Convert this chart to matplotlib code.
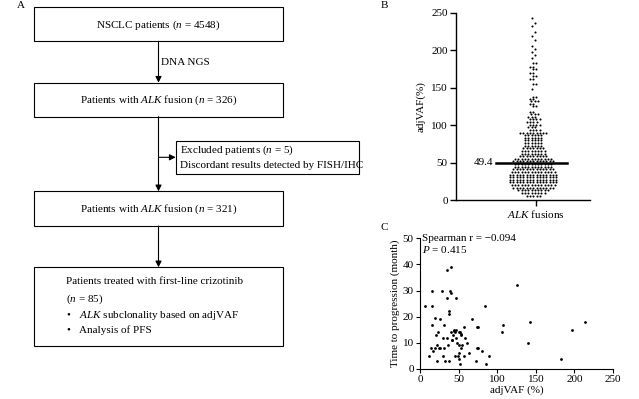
import matplotlib
matplotlib.use('Agg')
import matplotlib.pyplot as plt
from matplotlib.patches import Rectangle
import numpy as np

plt.rcParams['font.family'] = ['Liberation Serif', 'DejaVu Serif']
plt.rcParams['mathtext.fontset'] = 'custom'
plt.rcParams['mathtext.rm'] = 'Liberation Serif'
plt.rcParams['mathtext.it'] = 'Liberation Serif:italic'
plt.rcParams['axes.unicode_minus'] = True

# ---------------- data ----------------
n_total = 4548
n_alk = 326
n_excluded = 5
n_alk_final = 321
n_crizotinib = 85

# Panel B: adjVAF levels (rows of the dot plot) and number of patients per row
swarm_levels = [6, 9.5, 13, 16.5, 20, 23.5, 27, 30.5, 34, 37.5, 41, 44.5, 48,
                51.5, 55, 58.5, 62, 65.5, 69, 72.5, 76, 79.5, 83, 86.5, 90,
                93.5, 97, 100.5, 104, 107.5, 111, 114.5, 118,
                125, 128, 132, 135, 138, 148, 155,
                161, 165, 170, 175, 178, 183,
                190, 194, 198, 202, 206, 213, 219, 224, 232, 236, 243]
swarm_counts = [5, 8, 10, 13, 14, 15, 15, 15, 15, 14, 13, 12, 12,
                13, 12, 9, 8, 8, 7, 6, 6, 6, 6, 6, 9,
                4, 3, 4, 4, 4, 3, 3, 2,
                2, 2, 3, 2, 2, 1, 2,
                2, 2, 2, 2, 2, 2,
                1, 1, 1, 1, 1, 1, 1, 1, 1, 1, 1]
median_value = 49.4

# Panel C: adjVAF (%) vs time to progression (month)
ttp_adjvaf = [7, 15, 15, 15, 19, 14, 17, 12, 22, 21, 23.5, 26, 28, 31, 26.5, 31,
              29.5, 22, 29.5, 32, 34.5, 40.5, 38.5, 40.5, 34.5, 46.5, 37.5, 37.5,
              37.5, 35, 36, 40.5, 42, 43.5, 45, 42.5, 46.5, 47, 48, 51, 52, 53.5,
              51, 53, 51, 49, 51, 51.5, 45.5, 57, 57.5, 58.5, 61, 63, 67, 73.5,
              75.5, 74, 75.5, 72.5, 80, 84, 89, 86, 106, 108, 126, 140, 143, 183,
              197, 213.5, 44, 41, 53, 25, 20, 55]
ttp_months = [24, 30, 24, 17, 19.5, 8, 7, 5, 9, 13, 14, 19, 30, 17, 8, 8,
              12, 3, 5, 3, 38, 39, 30, 29, 27, 27, 22, 21,
              3, 12, 9, 14, 11, 15, 14, 13, 15, 12, 10, 14, 14, 13,
              9, 8, 6, 5, 4, 2, 5, 5, 16, 12, 10, 6, 19, 8,
              8, 16, 16, 3, 7, 24, 5, 2, 14, 17, 32, 10, 18, 4,
              15, 18, 14.5, 11, 13.5, 8, 8, 9]
spearman_r = '\u22120.094'
p_value = '0.415'

# ---------------- figure ----------------
W, H = 639, 399
fig = plt.figure(figsize=(W / 100, H / 100), dpi=100)
ax0 = fig.add_axes([0, 0, 1, 1])
ax0.set_xlim(0, W)
ax0.set_ylim(H, 0)
ax0.axis('off')

FS = 8
LW = 0.8


def box(x0, y0, x1, y1):
    ax0.add_patch(Rectangle((x0, y0), x1 - x0, y1 - y0, fill=False,
                            lw=LW, ec='black'))


def arrow(x0, y0, x1, y1):
    ax0.annotate('', xy=(x1, y1), xytext=(x0, y0),
                 arrowprops=dict(arrowstyle='-|>', lw=LW, color='black',
                                 mutation_scale=9, shrinkA=0, shrinkB=0))


cx = 158.5
bx0, bx1 = 34.3, 282.7

# Panel A flowchart
ax0.text(21, 6, 'A', fontsize=FS, ha='center', va='center')
box(bx0, 7.3, bx1, 41.3)
ax0.text(cx, 25, 'NSCLC patients ($\\mathit{n}$ = %d)' % n_total,
         fontsize=FS, ha='center', va='center')
arrow(cx, 41.3, cx, 82.7)
ax0.text(161, 62.5, 'DNA NGS', fontsize=FS, ha='left', va='center')
box(bx0, 82.7, bx1, 116.7)
ax0.text(cx, 100, 'Patients with $\\mathit{ALK}$ fusion ($\\mathit{n}$ = %d)' % n_alk,
         fontsize=FS, ha='center', va='center')
arrow(cx, 116.7, cx, 191.3)
arrow(cx, 157.3, 175.7, 157.3)
box(175.7, 140.7, 359, 174)
ax0.text(180, 150.5, 'Excluded patients ($\\mathit{n}$ = %d)' % n_excluded,
         fontsize=FS, ha='left', va='center')
ax0.text(180, 165.5, 'Discordant results detected by FISH/IHC',
         fontsize=FS, ha='left', va='center')
box(bx0, 191.3, bx1, 226)
ax0.text(cx, 209, 'Patients with $\\mathit{ALK}$ fusion ($\\mathit{n}$ = %d)' % n_alk_final,
         fontsize=FS, ha='center', va='center')
arrow(cx, 226, cx, 267.3)
box(bx0, 267.3, bx1, 345.7)
ax0.text(66, 281, 'Patients treated with first-line crizotinib',
         fontsize=FS, ha='left', va='center')
ax0.text(66, 299.5, '($\\mathit{n}$ = %d)' % n_crizotinib,
         fontsize=FS, ha='left', va='center')
ax0.text(68.5, 315, '\u2022', fontsize=FS, ha='center', va='center')
ax0.text(79, 315, '$\\mathit{ALK}$ subclonality based on adjVAF',
         fontsize=FS, ha='left', va='center')
ax0.text(68.5, 330, '\u2022', fontsize=FS, ha='center', va='center')
ax0.text(79, 330, 'Analysis of PFS', fontsize=FS, ha='left', va='center')

ax0.text(384, 5, 'B', fontsize=FS, ha='center', va='center')
ax0.text(384, 228, 'C', fontsize=FS, ha='center', va='center')


def px_axes(l, t, r, b):
    a = fig.add_axes([l / W, 1 - b / H, (r - l) / W, (b - t) / H])
    a.patch.set_alpha(0)
    return a


# Panel B: dot plot
axB = px_axes(456, 12.7, 590, 200)
tick_x = 535.7
axB.set_xlim(456 - tick_x, 590 - tick_x)
axB.set_ylim(0, 250)
sx, sy = [], []
spacing = 3.3
center = -2.5
for k, (lev, cnt) in enumerate(zip(swarm_levels, swarm_counts)):
    shift = 0.0
    if cnt <= 4:
        shift = (1 if k % 2 else -1) * spacing * 0.45
    for i in range(cnt):
        sx.append(center + shift + (i - (cnt - 1) / 2) * spacing)
        sy.append(lev)
axB.scatter(sx, sy, s=2.2, c='black', lw=0, zorder=3)
axB.plot([-39.7, 31.6], [median_value, median_value], color='black', lw=1.8, zorder=4)
axB.text(-42, median_value, '%.1f' % median_value, fontsize=FS, ha='right', va='center')
for s in ['top', 'right']:
    axB.spines[s].set_visible(False)
for s in ['left', 'bottom']:
    axB.spines[s].set_linewidth(1.0)
axB.set_yticks([0, 50, 100, 150, 200, 250])
axB.set_xticks([0])
axB.set_xticklabels(['$\\mathit{ALK}$ fusions'])
axB.tick_params(axis='both', direction='out', length=4, width=1.0, labelsize=FS, pad=2)
axB.set_ylabel('adjVAF(%)', fontsize=FS, labelpad=4)

# Panel C: scatter
axC = px_axes(420, 238.3, 613, 369)
axC.set_xlim(0, 250)
axC.set_ylim(0, 50)
axC.scatter(ttp_adjvaf, ttp_months, s=4, c='black', lw=0, zorder=3)
for s in ['top', 'right']:
    axC.spines[s].set_visible(False)
for s in ['left', 'bottom']:
    axC.spines[s].set_linewidth(LW)
axC.set_xticks([0, 50, 100, 150, 200, 250])
axC.set_yticks([0, 10, 20, 30, 40, 50])
axC.tick_params(axis='both', direction='out', length=3, width=LW, labelsize=FS, pad=1.5)
axC.set_xlabel('adjVAF (%)', fontsize=FS, labelpad=1)
axC.set_ylabel('Time to progression (month)', fontsize=FS, labelpad=2)
axC.text(0.01, 1.0, 'Spearman r = %s' % spearman_r, transform=axC.transAxes,
         fontsize=FS, ha='left', va='center')
axC.text(0.01, 0.915, '$\\mathit{P}$ = %s' % p_value, transform=axC.transAxes,
         fontsize=FS, ha='left', va='center')

fig.savefig('out.png', dpi=100)
